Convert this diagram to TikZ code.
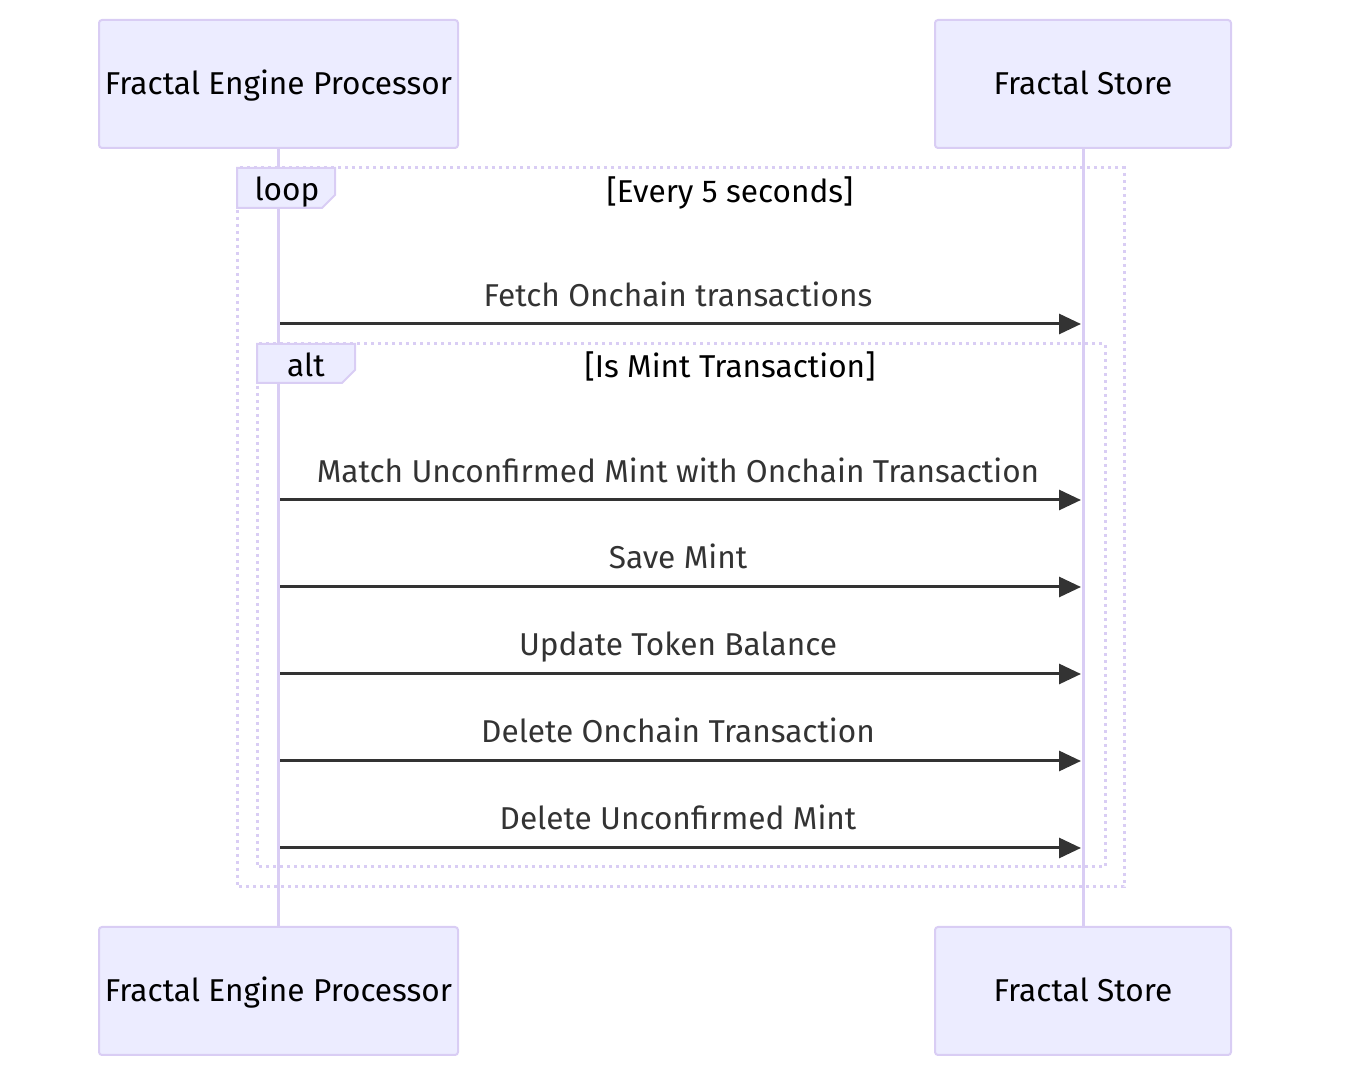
\documentclass[tikz,border=0pt]{standalone}
\usepackage{fontspec}
\setmainfont{Fira Sans}
\usetikzlibrary{arrows.meta}
\definecolor{actorfill}{HTML}{ECECFF}
\definecolor{actorline}{HTML}{D9CDF4}
\definecolor{msgline}{HTML}{333333}
\tikzset{
  actor/.style={draw=actorline, fill=actorfill, line width=1pt, rounded corners=1.5pt,
    minimum height=64pt, inner sep=0pt, text height=1.06em, text depth=0em,
    font=\fontsize{15.8}{19}\selectfont},
  lifeline/.style={draw=actorline, line width=1.5pt},
  frame/.style={draw=actorline, line width=1.5pt, dash pattern=on 1.5pt off 2pt},
  tab/.style={draw=actorline, fill=actorfill, line width=1pt},
  tabtext/.style={font=\fontsize{15.8}{19}\selectfont, text=black,
    text height=1.06em, text depth=0em},
  msg/.style={draw=msgline, line width=1.5pt, -{Triangle[length=11pt, width=10pt]}},
  msgtext/.style={font=\fontsize{15.8}{19}\selectfont, text=msgline,
    text height=1.06em, text depth=0em}
}
\begin{document}
\begin{tikzpicture}[x=0.5pt, y=-0.5pt]
\useasboundingbox (0,0) rectangle (1346,1090);
\node[actor, minimum width=179.5pt] (fep) at (278.5,84) {Fractal Engine Processor};
\node[actor, minimum width=148pt] (store) at (1083,84) {Fractal Store};
\node[actor, minimum width=179.5pt] (fepb) at (278.5,991) {Fractal Engine Processor};
\node[actor, minimum width=148pt] (storeb) at (1083,991) {Fractal Store};
\draw[lifeline] (fep.south) -- (fepb.north);
\draw[lifeline] (store.south) -- (storeb.north);
% loop frame
\coordinate (loopnw) at (237,168);
\coordinate (loopse) at (1124,887);
\draw[frame] (loopnw) rectangle (loopse);
\draw[tab] (237,168) -- (335,168) -- (335,195) -- (322,208) -- (237,208) -- cycle;
\node[tabtext] (looplbl) at (287,190) {loop};
\node[tabtext] (loopcond) at (730,192) {[Every 5 seconds]};
% alt frame
\coordinate (altnw) at (257,344);
\coordinate (altse) at (1105,867);
\draw[frame] (altnw) rectangle (altse);
\draw[tab] (257,344) -- (355,344) -- (355,370) -- (342,383) -- (257,383) -- cycle;
\node[tabtext] (altlbl) at (306,366) {alt};
\node[tabtext] (altcond) at (730,367) {[Is Mint Transaction]};
% messages
\coordinate (s1) at (280,324); \coordinate (e1) at (1081,324);
\coordinate (s2) at (280,500); \coordinate (e2) at (1081,500);
\coordinate (s3) at (280,587); \coordinate (e3) at (1081,587);
\coordinate (s4) at (280,674); \coordinate (e4) at (1081,674);
\coordinate (s5) at (280,761); \coordinate (e5) at (1081,761);
\coordinate (s6) at (280,848); \coordinate (e6) at (1081,848);
\draw[msg] (s1) -- (e1);
\draw[msg] (s2) -- (e2);
\draw[msg] (s3) -- (e3);
\draw[msg] (s4) -- (e4);
\draw[msg] (s5) -- (e5);
\draw[msg] (s6) -- (e6);
\node[msgtext] (m1) at (678,296) {Fetch Onchain transactions};
\node[msgtext] (m2) at (678,472) {Match Unconfirmed Mint with Onchain Transaction};
\node[msgtext] (m3) at (678,558) {Save Mint};
\node[msgtext] (m4) at (678,645) {Update Token Balance};
\node[msgtext] (m5) at (678,732) {Delete Onchain Transaction};
\node[msgtext] (m6) at (678,819) {Delete Unconfirmed Mint};
\end{tikzpicture}
\end{document}
